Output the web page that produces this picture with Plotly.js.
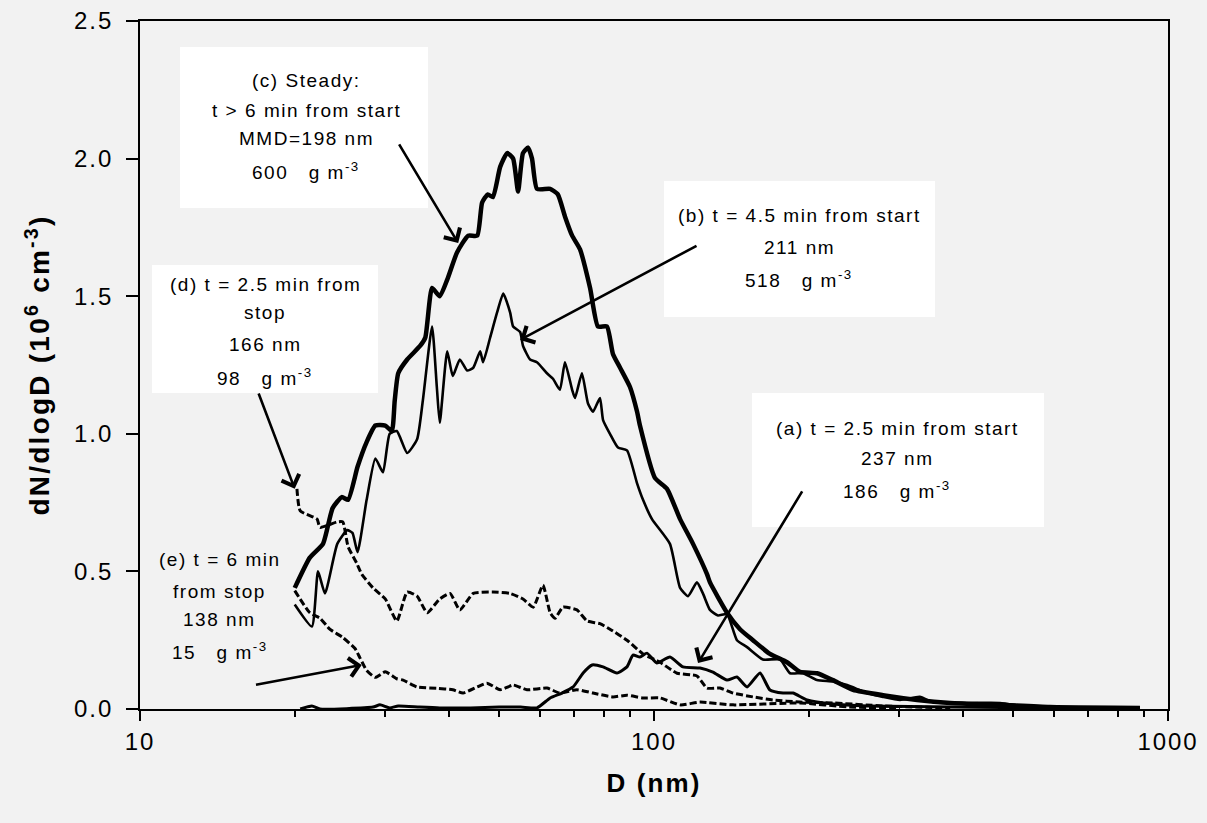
<!DOCTYPE html>
<html><head><meta charset="utf-8">
<script src="https://cdn.plot.ly/plotly-3.0.1.min.js"></script>
<style>
html,body{margin:0;padding:0;background:#f2f2f2;}
#chart{width:1207px;height:823px;}
text{letter-spacing:0.08em;}
</style>
</head><body><div id="chart"></div>
<script>
// ---- data (D in nm, dN/dlogD in 10^6 cm^-3) ----
const cD = [20.0,21.4,22.7,23.7,24.7,25.4,26.5,27.6,28.7,30.0,30.9,31.3,31.8,33.1,35.1,35.9,37.0,38.3,39.6,41.4,43.5,45.3,46.3,47.5,48.6,50.2,51.8,53.2,54.4,55.6,56.9,57.9,59.2,62.8,65.0,67.1,69.3,71.8,75.1,77.8,81.0,83.2,85.9,89.8,92.7,93.9,100.4,106.0,112.4,119.1,126.8,128.5,138.7,147.0,155.8,168.1,181.5,192.3,207.5,222.9,243.9,279.0,325.0,377.0,471.0,589.0,882.0];
const cN = [0.44,0.55,0.60,0.73,0.77,0.76,0.88,0.97,1.03,1.03,1.01,1.12,1.22,1.27,1.32,1.35,1.53,1.50,1.56,1.66,1.72,1.72,1.84,1.87,1.86,1.97,2.02,2.00,1.88,2.02,2.04,2.00,1.89,1.89,1.87,1.79,1.72,1.67,1.53,1.39,1.39,1.29,1.24,1.17,1.08,1.03,0.84,0.80,0.69,0.60,0.49,0.46,0.35,0.29,0.25,0.20,0.17,0.135,0.13,0.105,0.07,0.05,0.033,0.022,0.015,0.007,0.004];

const bD = [20.0,21.6,22.2,22.9,24.2,25.3,25.9,26.5,27.6,28.7,29.7,30.6,31.6,33.1,34.6,35.5,37.0,37.8,38.3,39.6,40.6,41.9,43.3,44.5,45.9,46.5,48.0,49.5,50.9,52.5,53.2,54.9,55.6,57.4,59.2,61.9,63.6,65.6,67.1,69.3,70.2,72.4,74.4,76.1,78.5,79.6,82.1,85.1,88.6,92.7,95.2,99.1,107.4,112.4,116.5,121.2,124.5,128.5,133.2,138.7,145.0,151.7,162.9,175.8,183.9,194.9,207.5,222.9,237.5,259.7,279.0,301.0,329.0,349.0,406.0,471.0,546.0,882.0];
const bN = [0.38,0.30,0.50,0.42,0.60,0.65,0.64,0.57,0.76,0.91,0.86,1.00,1.01,0.93,0.98,1.12,1.39,1.17,1.04,1.30,1.21,1.27,1.23,1.24,1.30,1.26,1.35,1.44,1.51,1.44,1.39,1.37,1.32,1.27,1.26,1.22,1.20,1.16,1.26,1.16,1.13,1.22,1.11,1.08,1.13,1.05,1.00,0.95,0.94,0.82,0.76,0.69,0.60,0.44,0.41,0.46,0.42,0.36,0.34,0.345,0.25,0.225,0.18,0.18,0.13,0.13,0.105,0.10,0.087,0.058,0.044,0.033,0.044,0.025,0.022,0.022,0.007,0.004];

const aD = [20.5,21.6,22.4,28.4,29.3,30.6,31.8,35.0,38.3,44.0,50.0,55.0,59.2,62.8,66.2,69.6,72.8,75.8,79.6,84.7,88.6,91.0,93.9,96.9,101.3,107.4,113.9,122.9,130.2,138.7,145.0,151.7,160.8,168.1,178.2,186.4,198.5,223.0,260.0,377.0,589.0];
const aN = [0.0,0.011,0.0,0.007,0.015,0.004,0.011,0.007,0.004,0.004,0.007,0.007,0.004,0.04,0.058,0.08,0.131,0.16,0.153,0.131,0.153,0.196,0.189,0.203,0.167,0.189,0.153,0.149,0.134,0.105,0.116,0.08,0.131,0.069,0.058,0.058,0.033,0.018,0.011,0.007,0.004];

const dD = [20.2,20.5,22.1,22.4,24.2,24.8,25.4,26.4,27.0,28.4,30.0,31.6,33.1,34.6,36.2,38.3,40.1,41.9,44.5,48.6,52.5,55.6,58.2,60.8,62.8,64.2,66.5,70.8,74.1,78.5,82.1,88.6,95.2,102.7,110.9,121.2,126.8,134.4,142.5,155.8,170.4,192.3,222.9,279.0,377.0];
const dN = [0.80,0.72,0.69,0.66,0.68,0.68,0.59,0.53,0.49,0.44,0.40,0.32,0.425,0.41,0.35,0.40,0.42,0.36,0.42,0.425,0.42,0.40,0.37,0.45,0.35,0.33,0.37,0.36,0.32,0.31,0.29,0.25,0.20,0.17,0.13,0.12,0.076,0.076,0.058,0.044,0.033,0.025,0.022,0.011,0.004];

const eD = [20.0,21.4,22.4,23.4,24.8,26.2,26.8,27.6,28.7,30.0,31.6,32.5,34.6,37.8,40.6,42.5,45.3,47.3,50.2,53.2,56.6,61.9,65.6,70.8,76.1,83.2,88.6,95.2,102.7,112.4,122.9,142.5,192.3,240.0,301.0];
const eN = [0.43,0.35,0.33,0.29,0.26,0.22,0.185,0.14,0.115,0.135,0.11,0.105,0.08,0.075,0.07,0.058,0.08,0.094,0.07,0.087,0.07,0.076,0.058,0.07,0.058,0.044,0.05,0.04,0.04,0.015,0.025,0.015,0.022,0.007,0.004];

const xTickVals = [10, 100, 1000];
const xTickText = ["10", "100", "1000"];
const xMinorVals = [20,30,40,50,60,70,80,90,200,300,400,500,600,700,800,900];

// label texts
const labelC = ["(c) Steady:", "t > 6 min from start", "MMD=198 nm", "600\u00a0\u00a0\u00a0g m<sup>-3</sup>"];
const labelB = ["(b) t = 4.5 min from start", "211 nm", "518\u00a0\u00a0\u00a0g m<sup>-3</sup>"];
const labelD = ["(d) t = 2.5 min from", "stop", "166 nm", "98\u00a0\u00a0\u00a0g m<sup>-3</sup>"];
const labelE = ["(e) t = 6 min", "from stop", "138 nm", "15\u00a0\u00a0\u00a0g m<sup>-3</sup>"];
const labelA = ["(a) t = 2.5 min from start", "237 nm", "186\u00a0\u00a0\u00a0g m<sup>-3</sup>"];

// arrows: [tail D, tail value, head D, head value]
const arrows = [
  [31.8, 2.057, 41.6, 1.693],
  [121.8, 1.686, 54.9, 1.341],
  [16.97, 1.152, 20.0, 0.80],
  [16.7, 0.087, 27.0, 0.16],
  [195, 0.796, 121.8, 0.167]
];

const FONT = "Liberation Sans, Arial, sans-serif";
const SM = 0.5;

const traces = [
  {x: cD, y: cN, mode: 'lines', line: {color: '#000', width: 4.5, shape: 'spline', smoothing: SM}, name: '(c)'},
  {x: bD, y: bN, mode: 'lines', line: {color: '#000', width: 2.6, shape: 'spline', smoothing: SM}, name: '(b)'},
  {x: aD, y: aN, mode: 'lines', line: {color: '#000', width: 3, shape: 'spline', smoothing: SM}, name: '(a)'},
  {x: dD, y: dN, mode: 'lines', line: {color: '#000', width: 3, dash: '7px,3px', shape: 'spline', smoothing: SM}, name: '(d)'},
  {x: eD, y: eN, mode: 'lines', line: {color: '#000', width: 3, dash: '7px,3px', shape: 'spline', smoothing: SM}, name: '(e)'}
];

function box(x0, x1, y0, y1) {
  return {type: 'rect', xref: 'paper', yref: 'paper', x0, x1, y0, y1,
          fillcolor: '#ffffff', line: {width: 0}, layer: 'below'};
}
const shapes = [
  box(0.0389, 0.2802, 0.7282, 0.9622),
  box(0.5097, 0.7733, 0.5698, 0.7674),
  box(0.0117, 0.2315, 0.4593, 0.6453),
  box(0.5953, 0.8794, 0.2645, 0.4593)
];

const annotations = [];
function addLines(lines, xc, ys) {
  lines.forEach((t, i) => annotations.push({
    xref: 'paper', yref: 'paper', x: xc, y: ys[i], text: t, showarrow: false,
    xanchor: 'center', yanchor: 'middle', font: {family: FONT, size: 19, color: '#000'}
  }));
}
addLines(labelC, 0.1615, [0.9142, 0.8706, 0.8285, 0.7820]);
addLines(labelB, 0.6411, [0.7166, 0.6701, 0.6250]);
addLines(labelD, 0.1216, [0.6177, 0.5756, 0.5305, 0.4825]);
addLines(labelE, 0.0778, [0.2180, 0.1715, 0.1294, 0.0840]);
addLines(labelA, 0.7364, [0.4070, 0.3634, 0.3180]);

arrows.forEach(a => annotations.push({
  xref: 'x', yref: 'y', axref: 'x', ayref: 'y',
  x: Math.log10(a[2]), y: a[3], ax: Math.log10(a[0]), ay: a[1],
  text: '', showarrow: true, arrowhead: 4, arrowsize: 1.4, arrowwidth: 2.6,
  arrowcolor: '#000', standoff: 0, startstandoff: 0
}));

const layout = {
  width: 1207, height: 823,
  margin: {l: 140, r: 39, t: 21, b: 114},
  paper_bgcolor: '#f2f2f2', plot_bgcolor: '#f2f2f2',
  showlegend: false, hovermode: false,
  font: {family: FONT, color: '#000'},
  xaxis: {
    type: 'log', range: [1, 3], tickmode: 'array', tickvals: xTickVals, ticktext: xTickText,
    ticks: 'outside', ticklen: 10, tickwidth: 2, tickcolor: '#000',
    minor: {tickmode: 'array', tickvals: xMinorVals, ticks: 'outside', ticklen: 6, tickwidth: 2, tickcolor: '#000', showgrid: false},
    showline: true, linewidth: 2, linecolor: '#000', mirror: true,
    showgrid: false, zeroline: false,
    tickfont: {family: FONT, size: 24, color: '#000'},
    title: {text: 'D (nm)', font: {family: FONT, size: 26, color: '#000', weight: 'bold'}, standoff: 20}
  },
  yaxis: {
    range: [0, 2.5], tickmode: 'linear', tick0: 0, dtick: 0.5, tickformat: '.1f',
    ticks: 'outside', ticklen: 12, tickwidth: 2, tickcolor: '#000', ticklabelstandoff: 8,
    showline: true, linewidth: 2, linecolor: '#000', mirror: true,
    showgrid: false, zeroline: false,
    tickfont: {family: FONT, size: 24, color: '#000'},
    title: {text: 'dN/dlogD (10<sup>6</sup> cm<sup>-3</sup>)', font: {family: FONT, size: 28, color: '#000', weight: 'bold'}, standoff: 16}
  },
  shapes: shapes,
  annotations: annotations
};

Plotly.newPlot('chart', traces, layout, {displayModeBar: false, staticPlot: true});
</script></body></html>
